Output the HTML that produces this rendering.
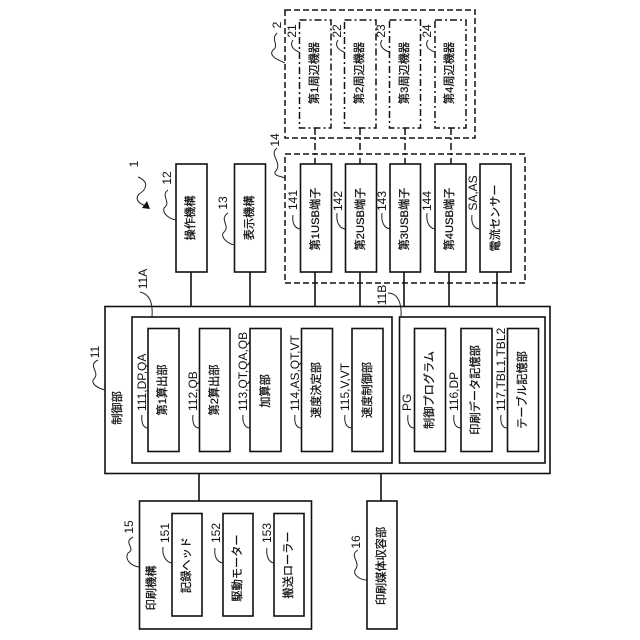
<!DOCTYPE html>
<html><head><meta charset="utf-8"><style>
html,body{margin:0;padding:0;background:#fff}
svg{display:block}
text{font-family:"Liberation Sans","Noto Sans CJK JP",sans-serif;fill:#111;dominant-baseline:central}
.c text{font-size:11.2px;text-anchor:middle;stroke:#111;stroke-width:.25}
.n text{font-size:12px;text-anchor:middle}
.s text{font-size:12px;text-anchor:start}
.b rect,.b line{fill:none;stroke:#111;stroke-width:1.6}
.d rect,.d line{fill:none;stroke:#111;stroke-width:1.5;stroke-dasharray:7 3 2 3}
.k{fill:none;stroke:#111;stroke-width:1.5;stroke-dasharray:6 3}
.l path{fill:none;stroke:#222;stroke-width:1}
</style></head><body>
<svg width="640" height="640" viewBox="0 0 640 640" xmlns="http://www.w3.org/2000/svg">
<rect width="640" height="640" fill="#fff"/>
<!-- dashed groups -->
<rect class="k" x="285" y="10" width="190" height="128"/>
<path class="k" d="M525 154H285V283H525V154"/>
<g class="d">
<rect x="299.500" y="20" width="31.500" height="108"/>
<rect x="344.500" y="20" width="31.500" height="108"/>
<rect x="389.500" y="20" width="31" height="108"/>
<rect x="435" y="20" width="31" height="108"/>
<line x1="315" y1="128" x2="315" y2="164"/>
<line x1="360" y1="128" x2="360" y2="164"/>
<line x1="405" y1="128" x2="405" y2="164"/>
<line x1="451" y1="128" x2="451" y2="164"/>
</g>
<g class="b">
<rect x="176" y="164" width="31" height="108"/>
<rect x="234.500" y="164" width="31" height="108"/>
<rect x="300.500" y="164" width="31" height="108"/>
<rect x="345.500" y="164" width="31" height="108"/>
<rect x="390" y="164" width="30.500" height="108"/>
<rect x="435" y="164" width="31" height="108"/>
<rect x="480" y="164" width="31" height="108"/>
<line x1="191" y1="272" x2="191" y2="306"/>
<line x1="250" y1="272" x2="250" y2="306"/>
<line x1="315" y1="272" x2="315" y2="306"/>
<line x1="360" y1="272" x2="360" y2="306"/>
<line x1="404" y1="272" x2="404" y2="306"/>
<line x1="449" y1="272" x2="449" y2="306"/>
<line x1="497" y1="272" x2="497" y2="306"/>
<rect x="105" y="306.500" width="445" height="167"/>
<rect x="132" y="317" width="260" height="146"/>
<rect x="399.500" y="317" width="145.500" height="146"/>
<rect x="148" y="328.500" width="31" height="123"/>
<rect x="199.500" y="328.500" width="30.500" height="123"/>
<rect x="250" y="328.500" width="31" height="123"/>
<rect x="301.500" y="328.500" width="31" height="123"/>
<rect x="352" y="328.500" width="31" height="123"/>
<rect x="414.500" y="328.500" width="31" height="123"/>
<rect x="461" y="328.500" width="31" height="123"/>
<rect x="507.500" y="328.500" width="31" height="123"/>
<line x1="199" y1="473" x2="199" y2="501"/>
<line x1="381" y1="473" x2="381" y2="501"/>
<rect x="139.500" y="501" width="172" height="128"/>
<rect x="172" y="513.500" width="30" height="102.500"/>
<rect x="223" y="513.500" width="30" height="102.500"/>
<rect x="274" y="513.500" width="30" height="102.500"/>
<rect x="367" y="501" width="30" height="128"/>
</g>
<!-- leaders -->
<g class="l">
<path d="M277 33C270 40 280 45 273 50C268 56 278 60 285 63"/>
<path d="M293 40C289 46 294 50 299 52"/>
<path d="M338 40C334 46 339 50 344 52"/>
<path d="M382 40C378 46 384 50 389 52"/>
<path d="M428 40C424 46 429 50 435 52"/>
<path d="M277 148C268 155 284 163 275 172C274 176 280 176 285 178"/>
<path d="M293 215C292 222 294 228 300 229"/>
<path d="M337 213C336 222 339 228 345 229"/>
<path d="M382 213C381 222 384 228 390 229"/>
<path d="M427 213C426 222 429 228 435 229"/>
<path d="M472 215C471 222 473 228 479 229"/>
<path d="M388 293C396 293 402 300 401 317"/>
<path d="M168 190C160 196 172 202 164 208C162 214 170 219 176 220"/>
<path d="M228 213C218 220 232 226 223 233C221 238 228 244 235 245"/>
<path d="M140 292C150 294 153 304 152 317"/>
<path d="M98 360C86 366 102 372 93 380C92 385 98 388 105 390"/>
<path d="M142 415C141 422 143 428 148 428"/>
<path d="M193 415C192 422 194 428 199 428"/>
<path d="M243 415C242 422 245 428 250 428"/>
<path d="M295 415C294 422 296 428 301 428"/>
<path d="M345 415C344 422 346 428 352 428"/>
<path d="M408 415C407 422 409 428 414 428"/>
<path d="M454 415C453 422 455 428 461 428"/>
<path d="M501 415C500 422 502 428 507 428"/>
<path d="M133 537C122 543 137 548 128 553C124 560 132 566 139 567"/>
<path d="M163 547C162 554 165 562 172 563"/>
<path d="M215 548C214 555 216 562 223 563"/>
<path d="M267 548C266 555 268 562 274 563"/>
<path d="M358 550C348 556 362 562 355 570C353 575 360 580 367 580"/>
<path d="M138 177C150 182 146 190 139 194C134 200 140 204 146 206"/>
</g>
<path d="M150 209L142 208L147 201Z" fill="#111"/>
<!-- box labels -->
<g class="c">
<text transform="translate(315 73) rotate(-90)">第1周辺機器</text>
<text transform="translate(360 73) rotate(-90)">第2周辺機器</text>
<text transform="translate(405 73) rotate(-90)">第3周辺機器</text>
<text transform="translate(450 73) rotate(-90)">第4周辺機器</text>
<text transform="translate(191 218) rotate(-90)">操作機構</text>
<text transform="translate(250 218) rotate(-90)">表示機構</text>
<text transform="translate(316 219) rotate(-90)">第1USB端子</text>
<text transform="translate(361 219) rotate(-90)">第2USB端子</text>
<text transform="translate(405 219) rotate(-90)">第3USB端子</text>
<text transform="translate(450 219) rotate(-90)">第4USB端子</text>
<text transform="translate(496 218) rotate(-90)">電流センサー</text>
<text transform="translate(118 408) rotate(-90)">制御部</text>
<text transform="translate(163 390) rotate(-90)">第1算出部</text>
<text transform="translate(215 390) rotate(-90)">第2算出部</text>
<text transform="translate(266 391) rotate(-90)">加算部</text>
<text transform="translate(317 390) rotate(-90)">速度決定部</text>
<text transform="translate(368 390) rotate(-90)">速度制御部</text>
<text transform="translate(430 390) rotate(-90)">制御プログラム</text>
<text transform="translate(476 390) rotate(-90)">印刷データ記憶部</text>
<text transform="translate(523 390) rotate(-90)">テーブル記憶部</text>
<text transform="translate(152 588) rotate(-90)">印刷機構</text>
<text transform="translate(187 565) rotate(-90)">記録ヘッド</text>
<text transform="translate(238 568) rotate(-90)">駆動モーター</text>
<text transform="translate(289 565) rotate(-90)">搬送ローラー</text>
<text transform="translate(382 566) rotate(-90)">印刷媒体収容部</text>
</g>
<!-- reference numerals -->
<g class="n">
<text transform="translate(134 164) rotate(-90)">1</text>
<text transform="translate(277 25) rotate(-90)">2</text>
<text transform="translate(292 31) rotate(-90)">21</text>
<text transform="translate(337 31) rotate(-90)">22</text>
<text transform="translate(381 31) rotate(-90)">23</text>
<text transform="translate(427 31) rotate(-90)">24</text>
<text transform="translate(275 140) rotate(-90)">14</text>
<text transform="translate(293 200) rotate(-90)">141</text>
<text transform="translate(338 201) rotate(-90)">142</text>
<text transform="translate(382 201) rotate(-90)">143</text>
<text transform="translate(427 201) rotate(-90)">144</text>
<text transform="translate(473 193) rotate(-90)">SA,AS</text>
<text transform="translate(382 295) rotate(-90)">11B</text>
<text transform="translate(167 178) rotate(-90)">12</text>
<text transform="translate(223 203) rotate(-90)">13</text>
<text transform="translate(143 279) rotate(-90)">11A</text>
<text transform="translate(95 352) rotate(-90)">11</text>
<text transform="translate(129 527) rotate(-90)">15</text>
<text transform="translate(165 533) rotate(-90)">151</text>
<text transform="translate(216 533) rotate(-90)">152</text>
<text transform="translate(267 533) rotate(-90)">153</text>
<text transform="translate(356 542) rotate(-90)">16</text>
</g>
<g class="s">
<text transform="translate(142 411) rotate(-90)">111,DP,QA</text>
<text transform="translate(193 411) rotate(-90)">112,QB</text>
<text transform="translate(243 411) rotate(-90)">113,QT,QA,QB</text>
<text transform="translate(295 411) rotate(-90)">114,AS,QT,VT</text>
<text transform="translate(345 411) rotate(-90)">115,V,VT</text>
<text transform="translate(407 411) rotate(-90)">PG</text>
<text transform="translate(454 411) rotate(-90)">116,DP</text>
<text transform="translate(501 411) rotate(-90)">117,TBL1,TBL2</text>
</g>
</svg>
</body></html>
